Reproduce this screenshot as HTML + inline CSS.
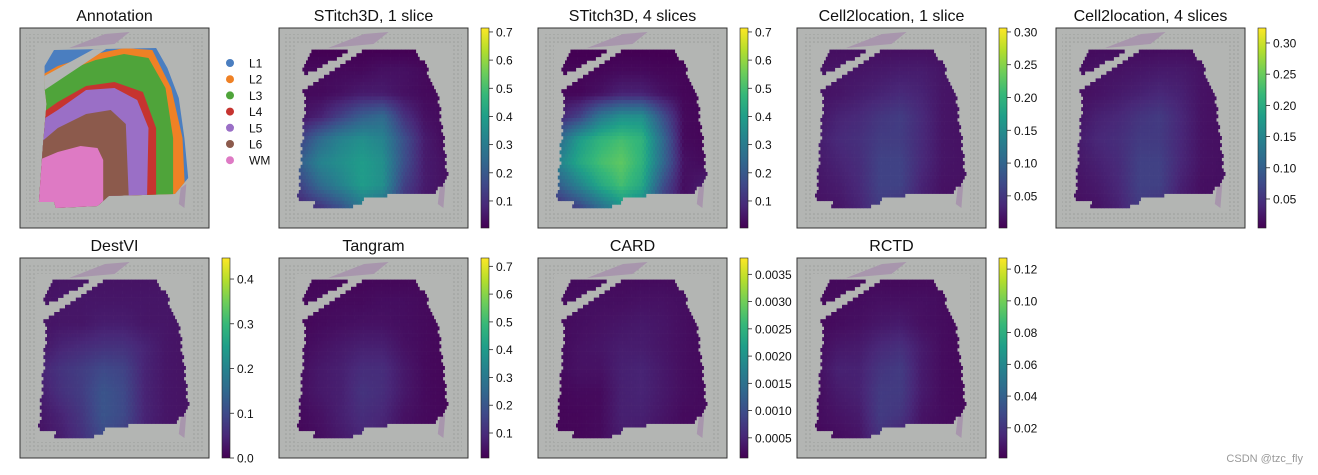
<!DOCTYPE html>
<html><head><meta charset="utf-8"><style>
html,body{margin:0;padding:0;background:#fff;width:1318px;height:475px;overflow:hidden;font-family:"Liberation Sans",sans-serif}
svg{display:block}
</style></head><body>
<svg id="fig" width="1318" height="475" viewBox="0 0 1318 475" xmlns="http://www.w3.org/2000/svg">
<text x="1303" y="462" font-size="11" fill="#999" text-anchor="end">CSDN @tzc_fly</text>
</svg>
<script>
// ---- data ----
const titles = ["Annotation","STitch3D, 1 slice","STitch3D, 4 slices","Cell2location, 1 slice","Cell2location, 4 slices","DestVI","Tangram","CARD","RCTD"];
const layerNames = ["L1","L2","L3","L4","L5","L6","WM"];
const layerColors = ["#4a7ec0","#ef8125","#4fa43a","#c63430","#9a6fc6","#8c5a4c","#de7ac4"];
const layerBounds = [
  null,
  [[.05,.27],[.2,.19],[.4,.13],[.55,.1],[.7,.11],[.8,.3],[.86,.55],[.88,.95]],
  [[.05,.31],[.2,.23],[.4,.16],[.55,.13],[.68,.15],[.77,.3],[.81,.55],[.81,.95]],
  [[.05,.47],[.2,.37],[.35,.29],[.5,.27],[.65,.32],[.72,.5],[.72,.95]],
  [[.05,.5],[.2,.41],[.35,.31],[.5,.3],[.62,.36],[.68,.5],[.67,.95]],
  [[.05,.62],[.2,.5],[.35,.43],[.48,.41],[.56,.48],[.58,.95]],
  [[.05,.68],[.2,.62],[.32,.59],[.41,.6],[.44,.66],[.44,.95]]
];
const cbMin = [0,0.004,0.004,0.001,0.0035,0,0.01,0.00013,0.001];
const cbMax = [0,0.714,0.714,0.306,0.324,0.447,0.73,0.0038,0.127];
const tickVals = [[],[0.1,0.2,0.3,0.4,0.5,0.6,0.7],[0.1,0.2,0.3,0.4,0.5,0.6,0.7],[0.05,0.10,0.15,0.20,0.25,0.30],[0.05,0.10,0.15,0.20,0.25,0.30],[0.0,0.1,0.2,0.3,0.4],[0.1,0.2,0.3,0.4,0.5,0.6,0.7],[0.0005,0.0010,0.0015,0.0020,0.0025,0.0030,0.0035],[0.02,0.04,0.06,0.08,0.10,0.12]];
const tickLabels = [[],["0.1","0.2","0.3","0.4","0.5","0.6","0.7"],["0.1","0.2","0.3","0.4","0.5","0.6","0.7"],["0.05","0.10","0.15","0.20","0.25","0.30"],["0.05","0.10","0.15","0.20","0.25","0.30"],["0.0","0.1","0.2","0.3","0.4"],["0.1","0.2","0.3","0.4","0.5","0.6","0.7"],["0.0005","0.0010","0.0015","0.0020","0.0025","0.0030","0.0035"],["0.02","0.04","0.06","0.08","0.10","0.12"]];
const gridS1 = [[0,0,0,0,0,0,0,0],[.03,.03,.03,.03,.05,.05,.03,0],[.03,.03,.05,.08,.08,.05,.03,.03],[.05,.1,.2,.3,.35,.15,.05,.03],[.2,.35,.45,.5,.45,.25,.08,.03],[.3,.45,.5,.55,.5,.25,.08,.05],[.2,.35,.45,.55,.5,.2,.08,.05],[.1,.15,.25,.4,.35,.12,.05,.05]];
const gridS4 = [[0,0,0,0,0,0,0,0],[.02,.02,.02,.03,.03,.02,.02,0],[.02,.02,.05,.1,.1,.05,.02,.02],[.1,.2,.4,.5,.5,.25,.03,.02],[.35,.55,.65,.7,.65,.35,.03,.02],[.45,.6,.7,.75,.65,.35,.05,.03],[.3,.45,.6,.7,.6,.25,.04,.08],[.12,.2,.35,.5,.45,.15,.04,.08]];
const gridC1 = [[.04,.04,.04,.04,.04,.04,.04,.04],[.05,.06,.06,.07,.08,.08,.06,.05],[.05,.06,.08,.1,.12,.1,.06,.05],[.06,.1,.12,.16,.18,.12,.06,.05],[.08,.12,.14,.18,.18,.12,.06,.05],[.07,.1,.13,.2,.2,.12,.06,.05],[.06,.08,.12,.2,.2,.1,.05,.05],[.05,.06,.1,.18,.15,.08,.05,.05]];
const gridC4 = [[.04,.04,.04,.04,.04,.04,.04,.04],[.05,.06,.06,.07,.08,.08,.06,.05],[.05,.06,.08,.1,.12,.1,.06,.05],[.06,.1,.12,.16,.18,.12,.06,.05],[.08,.12,.14,.18,.18,.12,.06,.05],[.07,.1,.13,.2,.2,.12,.06,.05],[.06,.08,.12,.2,.2,.1,.05,.05],[.05,.06,.1,.18,.15,.08,.05,.05]];
const gridDV = [[.05,.05,.05,.05,.05,.05,.05,.05],[.05,.06,.06,.06,.06,.06,.06,.05],[.05,.06,.06,.08,.08,.06,.06,.05],[.06,.1,.12,.14,.14,.1,.06,.05],[.1,.15,.18,.22,.2,.1,.06,.05],[.08,.14,.18,.26,.22,.1,.06,.05],[.06,.1,.16,.26,.22,.1,.06,.05],[.05,.08,.14,.22,.18,.08,.05,.05]];
const gridTG = [[.03,.03,.03,.03,.03,.03,.03,.03],[.03,.04,.04,.04,.05,.05,.04,.03],[.03,.04,.05,.06,.06,.05,.04,.03],[.04,.06,.08,.1,.1,.06,.04,.03],[.05,.08,.1,.14,.14,.08,.04,.03],[.05,.08,.1,.16,.14,.08,.04,.03],[.04,.06,.1,.14,.12,.06,.04,.03],[.03,.05,.08,.12,.1,.05,.03,.03]];
const gridCD = [[.06,.06,.06,.06,.06,.06,.06,.06],[.06,.07,.07,.07,.08,.08,.07,.06],[.06,.07,.08,.09,.1,.09,.07,.06],[.06,.08,.09,.11,.11,.09,.07,.06],[.06,.08,.08,.12,.13,.1,.07,.06],[.05,.06,.06,.12,.13,.1,.07,.06],[.05,.05,.06,.12,.12,.09,.06,.06],[.05,.05,.06,.11,.1,.07,.06,.06]];
const gridRC = [[.03,.03,.03,.03,.03,.03,.03,.03],[.03,.04,.04,.05,.05,.05,.04,.03],[.03,.04,.05,.07,.08,.05,.04,.03],[.04,.07,.08,.12,.14,.08,.04,.03],[.05,.1,.1,.16,.18,.08,.04,.03],[.04,.08,.1,.18,.18,.08,.04,.03],[.04,.06,.08,.18,.16,.06,.04,.03],[.03,.04,.06,.15,.1,.05,.03,.03]];
const grids = [null,gridS1,gridS4,gridC1,gridC4,gridDV,gridTG,gridCD,gridRC];

// ---- layout ----
const NS="http://www.w3.org/2000/svg";
const svg=document.getElementById('fig');
const colX=[20,279,538,797,1056], rowY=[28,258], PW=189, PH=200;
const tissue=[[.13,.19],[.18,.11],[.72,.1],[.78,.2],[.84,.35],[.87,.55],[.89,.75],[.82,.83],[.47,.84],[.41,.89],[.19,.9],[.18,.87],[.1,.87],[.12,.6],[.14,.38],[.13,.3]];
const gap=[[.11,.25],[.42,.09],[.48,.09],[.13,.31]];
const vir=[[68,1,84],[72,40,120],[62,74,137],[49,104,142],[38,130,142],[31,158,137],[53,183,121],[109,205,89],[180,222,44],[253,231,37]];
function viridis(t){t=Math.max(0,Math.min(1,t));const f=t*9,i=Math.min(8,Math.floor(f)),r=f-i;const a=vir[i],b=vir[i+1];return `rgb(${Math.round(a[0]+(b[0]-a[0])*r)},${Math.round(a[1]+(b[1]-a[1])*r)},${Math.round(a[2]+(b[2]-a[2])*r)})`;}
function inPoly(x,y,p){let c=false;for(let i=0,j=p.length-1;i<p.length;j=i++){const [xi,yi]=p[i],[xj,yj]=p[j];if((yi>y)!=(yj>y)&&x<(xj-xi)*(y-yi)/(yj-yi)+xi)c=!c;}return c;}
function gridVal(g,fx,fy){const gx=Math.max(0,Math.min(7,(fx-.11)/.77*7)),gy=Math.max(0,Math.min(7,(fy-.1)/.8*7));const x0=Math.min(6,Math.floor(gx)),y0=Math.min(6,Math.floor(gy)),rx=gx-x0,ry=gy-y0;return g[y0][x0]*(1-rx)*(1-ry)+g[y0][x0+1]*rx*(1-ry)+g[y0+1][x0]*(1-rx)*ry+g[y0+1][x0+1]*rx*ry;}
function el(tag,attrs,parent){const e=document.createElementNS(NS,tag);for(const k in attrs)e.setAttribute(k,attrs[k]);(parent||svg).appendChild(e);return e;}
function pts(p,x,y){return p.map(q=>(x+q[0]*PW).toFixed(1)+','+(y+q[1]*PH).toFixed(1)).join(' ');}

const defs=el('defs',{});
const pat=el('pattern',{id:'dots',width:4,height:4,patternUnits:'userSpaceOnUse'},defs);
el('circle',{cx:2,cy:2,r:0.8,fill:'#9a9c9a'},pat);
const lg=el('linearGradient',{id:'vg',x1:0,y1:1,x2:0,y2:0},defs);
vir.forEach((c,i)=>el('stop',{offset:i/9,'stop-color':`rgb(${c})`},lg));

titles.forEach((t,k)=>{
  const x=colX[k<5?k:k-5], y=rowY[k<5?0:1];
  const g=el('g',{});
  
  
  const tt=el('text',{x:x+PW/2,y:y-7,'font-size':16,'text-anchor':'middle',fill:'#111'},g);tt.textContent=t;
  
  
  el('rect',{x:x,y:y,width:PW,height:PH,fill:'#b3b5b3'},g);
  el('rect',{x:x+6,y:y+6,width:PW-12,height:PH-12,fill:'url(#dots)'},g);
  el('rect',{x:x+16,y:y+16,width:PW-32,height:PH-32,fill:'#b3b5b3'},g);
  el('polygon',{points:pts([[.26,.1],[.45,.03],[.58,.02],[.5,.08]],x,y),fill:'#a896ad'},g);
  el('polygon',{points:pts([[.85,.8],[.88,.78],[.87,.9],[.84,.88]],x,y),fill:'#a896ad'},g);
  const cid='clip'+k;const cp=el('clipPath',{id:cid},defs);el('polygon',{points:pts(tissue,x,y)},cp);
  if(k===0){
    const lgp=el('g',{'clip-path':`url(#${cid})`},g);
    el('rect',{x:x,y:y,width:PW,height:PH,fill:layerColors[0]},lgp);
    for(let i=1;i<layerColors.length;i++){
      const b=layerBounds[i].concat([[0,.95],[0,.2]]);
      const lp=el('polygon',{points:pts(b,x,y),fill:layerColors[i]},lgp);
      
      
    }
    el('polygon',{points:pts(gap,x,y),fill:'#b3b5b3'},lgp);
    layerNames.forEach((n,i)=>{
      const ly=y+35+i*16.2;
      const d=el('circle',{cx:230,cy:ly,r:4,fill:layerColors[i]},g);
      
      
      const lt=el('text',{x:249,y:ly+4.5,'font-size':12,fill:'#111'},g);lt.textContent=n;
      
      
    });
  } else {
    const gr=grids[k], mx=cbMax[k], mn=cbMin[k];
    const sp=el('g',{},g);
    
    
    const s=3.6;
    for(let j=0;j*s<PH;j++)for(let i=0;i*s<PW;i++){
      const px=i*s+(j%2?s/2:0)+s/2, py=j*s+s/2, fx=px/PW, fy=py/PH;
      if(!inPoly(fx,fy,tissue)||inPoly(fx,fy,gap))continue;
      const v=gridVal(gr,fx,fy)*mx;
      el('rect',{x:(x+px-s/2).toFixed(1),y:(y+py-s/2).toFixed(1),width:s+.3,height:s+.3,fill:viridis((v-mn)/(mx-mn))},sp);
    }
    const cx=x+PW+13;
    const cb=el('rect',{x:cx,y:y,width:8,height:PH,fill:'url(#vg)',stroke:'#222','stroke-width':.6},g);
    
    
    tickVals[k].forEach((v,i)=>{
      const ty=y+PH-(v-mn)/(mx-mn)*PH;
      el('line',{x1:cx+8,x2:cx+12,y1:ty,y2:ty,stroke:'#222','stroke-width':.8},g);
      const tl=el('text',{x:cx+15,y:ty+4.5,'font-size':12,fill:'#111'},g);tl.textContent=tickLabels[k][i];
      
      
    });
  }
  el('rect',{x:x,y:y,width:PW,height:PH,fill:'none',stroke:'#333','stroke-width':1},g);
});
</script>
</body></html>
